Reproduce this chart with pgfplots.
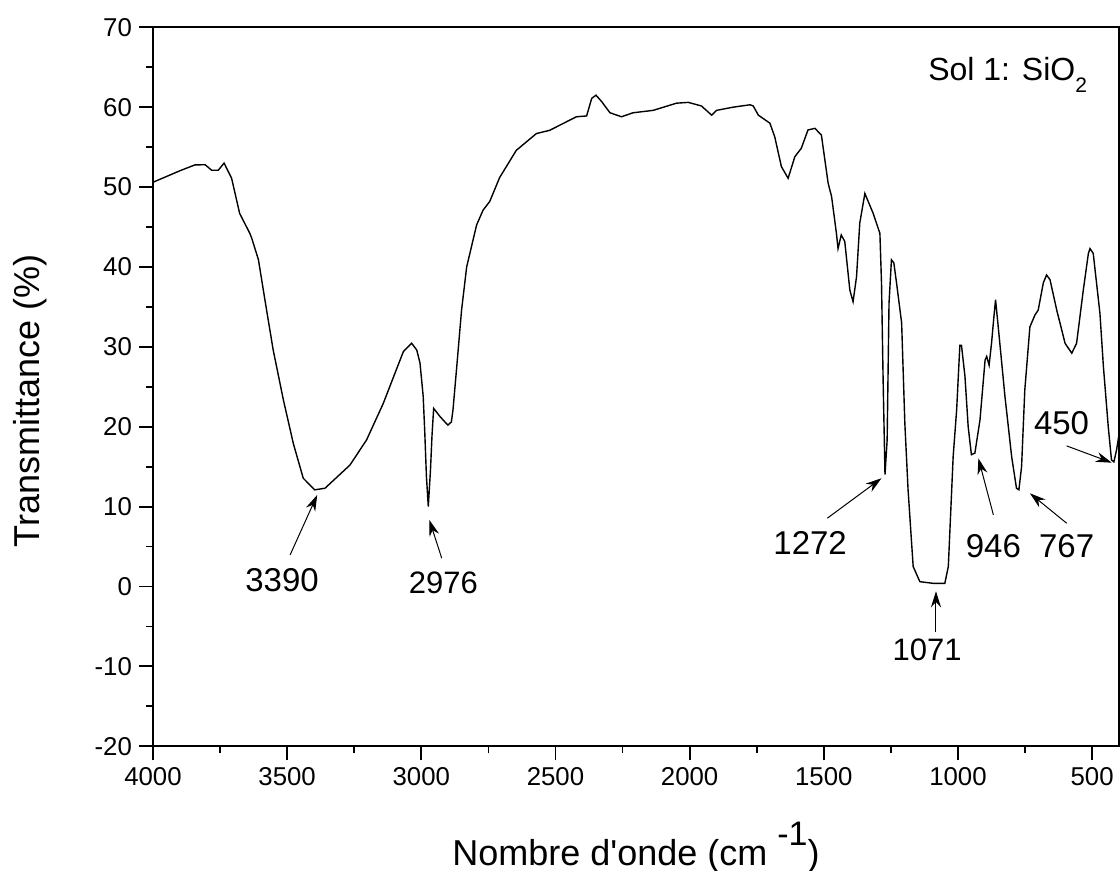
\documentclass[border=0pt]{standalone}
\usepackage{fontspec}
\setmainfont{Liberation Sans}
\usepackage{pgfplots}
\pgfplotsset{compat=1.18}
\usetikzlibrary{arrows.meta}
\begin{document}
\begin{tikzpicture}
\begin{axis}[
  scale only axis,
  width=483pt, height=359.5pt,
  x dir=reverse,
  xmin=400, xmax=4000,
  ymin=-20, ymax=70,
  xtick={500,1000,...,4000},
  ytick={-20,-10,...,70},
  minor x tick num=1,
  minor y tick num=1,
  xtick pos=bottom, ytick pos=left,
  tick align=outside,
  major tick length=7pt,
  minor tick length=3.5pt,
  every tick/.style={black, line width=0.9pt},
  axis line style={line width=0.9pt},
  /pgf/number format/assume math mode=true,
  /pgf/number format/1000 sep={},
  tick label style={font=\fontsize{12.9}{15}\selectfont},
  xlabel={Nombre d\textquotesingle onde (cm \raisebox{0.55em}{\fontsize{17}{19}\selectfont -1})},
  ylabel={Transmittance (\%)},
  label style={font=\fontsize{18}{21}\selectfont},
  xlabel style={at={(axis description cs:0.5,-0.141)}, anchor=center},
  ylabel style={at={(axis description cs:-0.127,0.48)}, anchor=center},
  clip=false,
]
\addplot[black, line width=0.7pt] coordinates {
(4000,50.6) (3899,52.05) (3844,52.77) (3806,52.8) (3781,52.1) (3757,52.1)
(3735,53.0) (3707,51.1) (3677,46.7) (3639,44.2) (3632,43.6) (3607,40.9)
(3583,35.9) (3552,29.6) (3514,23.35) (3477,17.9) (3440,13.55) (3397,12.1)
(3359,12.3) (3266,15.2) (3204,18.35) (3142,22.9) (3067,29.4) (3036,30.45)
(3017,29.6) (3005,28.0) (2993,23.8) (2987,19.2) (2981,13.8) (2974,10.0)
(2966,14.5) (2960,19.0) (2954,22.3) (2931,21.3) (2919,20.85) (2901,20.2)
(2888,20.6) (2882,22.1) (2869,27.1) (2850,34.6) (2831,40.0) (2794,45.25)
(2770,47.1) (2745,48.2) (2708,51.2) (2646,54.6) (2571,56.7) (2522,57.1)
(2422,58.8) (2384,58.9) (2365,61.1) (2349,61.5) (2328,60.7) (2297,59.3)
(2254,58.8) (2211,59.3) (2136,59.6) (2049,60.5) (2005,60.6) (1956,60.15)
(1918,59.0) (1900,59.6) (1838,60.0) (1775,60.3) (1763,60.15) (1744,59.0)
(1701,58.0) (1683,56.3) (1658,52.55) (1633,51.1) (1608,53.8) (1584,54.85)
(1559,57.15) (1533,57.35) (1509,56.5) (1484,50.5) (1471,48.8) (1453,44.2)
(1447,42.3) (1435,44.0) (1422,43.2) (1403,37.1) (1391,35.65) (1378,38.8)
(1366,45.5) (1347,49.2) (1316,46.7) (1291,44.2) (1285,38.0) (1279,25.85)
(1272,14.0) (1264,18.35) (1257,35.45) (1248,40.9) (1239,40.5) (1229,38.0)
(1210,33.0) (1198,20.4) (1186,12.1) (1167,2.5) (1142,0.6) (1093,0.4)
(1049,0.4) (1036,2.5) (1018,16.25) (1005,22.1) (993,30.2) (987,30.2)
(974,26.3) (962,20.0) (950,16.5) (937,16.7) (918,20.85) (899,28.35)
(893,28.8) (884,27.7) (875,30.45) (866,33.8) (860,35.9) (850,32.5)
(825,23.8) (800,16.25) (782,12.3) (773,12.1) (763,15.0) (751,24.6)
(732,32.5) (713,34.0) (701,34.6) (682,38.0) (670,39.0) (657,38.4)
(632,34.6) (601,30.45) (576,29.2) (558,30.45) (533,37.1) (514,41.7)
(508,42.3) (496,41.7) (471,34.2) (458,27.5) (440,20.0) (428,15.85)
(419,15.6) (409,17.1) (401,18.8)
};
% annotations
\tikzset{ann/.style={-{Stealth[length=8pt,width=5pt]}, line width=0.5pt, black}}
\draw[ann] (axis cs:3489,3.95) -- (axis cs:3388,11.46);
\node[font=\fontsize{16.5}{19}\selectfont] at (axis cs:3519,0.83) {3390};
\draw[ann] (axis cs:2924,3.55) -- (axis cs:2970,8.33);
\node[font=\fontsize{15.5}{18}\selectfont] at (axis cs:2918,0.41) {2976};
\draw[ann] (axis cs:1487,8.55) -- (axis cs:1285,13.55);
\node[font=\fontsize{16.5}{19}\selectfont] at (axis cs:1551,5.42) {1272};
\draw[ann] (axis cs:1082,-5.7) -- (axis cs:1082,-0.6);
\node[font=\fontsize{15.5}{18}\selectfont] at (axis cs:1115,-7.9) {1071};
\draw[ann] (axis cs:868,8.96) -- (axis cs:924,16.05);
\node[font=\fontsize{16.5}{19}\selectfont] at (axis cs:868,5.0) {946};
\draw[ann] (axis cs:595,7.92) -- (axis cs:732,11.67);
\node[font=\fontsize{16.5}{19}\selectfont] at (axis cs:595,5.0) {767};
\draw[ann] (axis cs:595,17.6) -- (axis cs:427,15.5);
\node[font=\fontsize{16.5}{19}\selectfont] at (axis cs:614,20.4) {450};
\node[font=\fontsize{16}{19}\selectfont, anchor=base west, inner sep=0pt] at (axis cs:1112,63.4) {Sol 1: SiO\raisebox{-0.4em}{\fontsize{10.5}{12}\selectfont 2}};
\end{axis}
\pgfresetboundingbox
\path[use as bounding box] ([shift={(-76.5pt,-62pt)}]current axis.south west) rectangle ([shift={(0.5pt,13.65pt)}]current axis.north east);
\end{tikzpicture}
\end{document}
